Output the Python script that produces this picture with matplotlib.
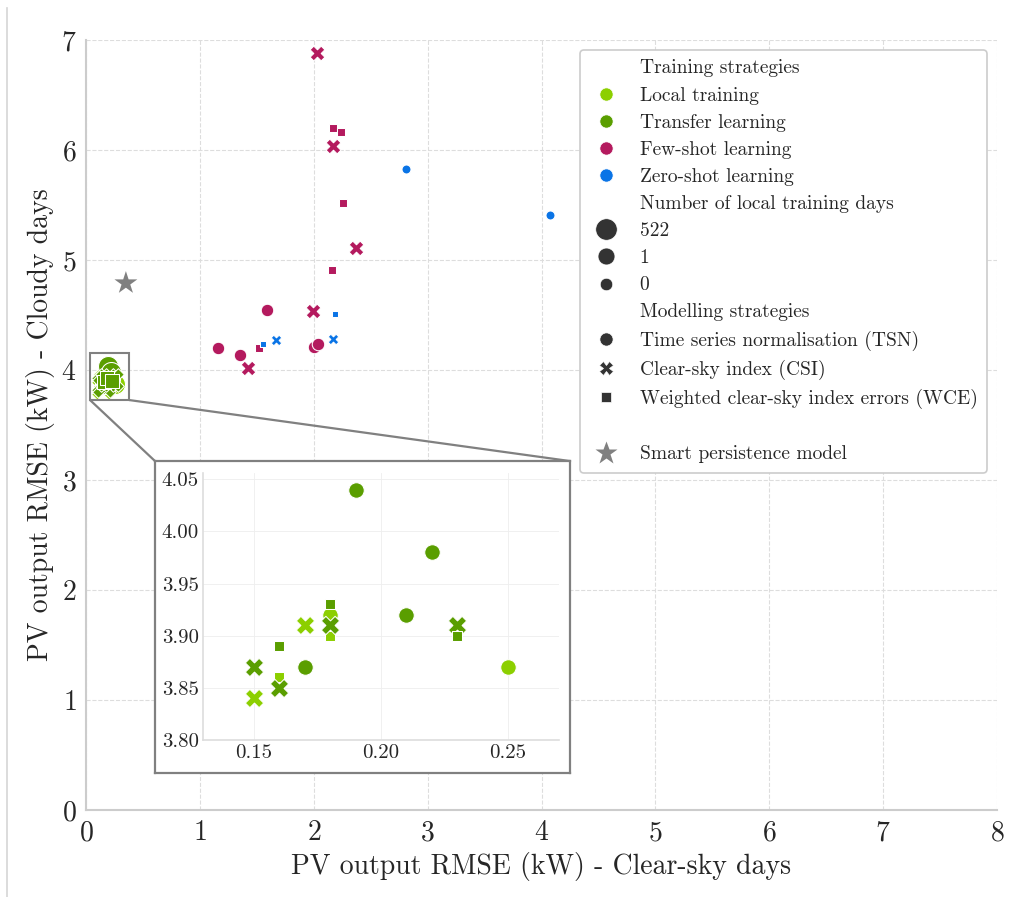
import matplotlib
matplotlib.use("Agg")
import matplotlib.pyplot as plt
from matplotlib.lines import Line2D
from matplotlib.patches import Rectangle, ConnectionPatch
from matplotlib.ticker import FormatStrFormatter

plt.rcParams['font.family'] = 'cmr10'
plt.rcParams['mathtext.fontset'] = 'cm'
plt.rcParams['axes.formatter.use_mathtext'] = True
plt.rcParams['text.color'] = '#262626'
plt.rcParams['axes.labelcolor'] = '#262626'
plt.rcParams['xtick.color'] = '#262626'
plt.rcParams['ytick.color'] = '#262626'

# Colours per training strategy
c_local = '#8ccf00'
c_transfer = '#5a9e00'
c_few = '#b41a5e'
c_zero = '#0a74e6'

# Local training (522 days)
lt_tsn_x = [0.18, 0.25]
lt_tsn_y = [3.92, 3.87]
lt_csi_x = [0.15, 0.17]
lt_csi_y = [3.84, 3.91]
lt_wce_x = [0.16, 0.18]
lt_wce_y = [3.86, 3.90]

# Transfer learning (522 days)
tl_tsn_x = [0.17, 0.19, 0.21, 0.22]
tl_tsn_y = [3.87, 4.04, 3.92, 3.98]
tl_csi_x = [0.15, 0.16, 0.18, 0.23]
tl_csi_y = [3.87, 3.85, 3.91, 3.91]
tl_wce_x = [0.16, 0.18, 0.23]
tl_wce_y = [3.89, 3.93, 3.90]

# Few-shot learning (1 day)
fs_tsn_x = [1.16, 1.35, 1.59, 2.00, 2.04]
fs_tsn_y = [4.20, 4.14, 4.55, 4.21, 4.24]
fs_csi_x = [2.03, 2.17, 2.37, 1.99, 1.42]
fs_csi_y = [6.88, 6.04, 5.11, 4.54, 4.02]
fs_wce_x = [2.17, 2.24, 2.26, 2.16, 1.52]
fs_wce_y = [6.20, 6.16, 5.52, 4.91, 4.20]

# Zero-shot learning (0 days)
zs_tsn_x = [2.81, 4.07]
zs_tsn_y = [5.83, 5.41]
zs_csi_x = [1.67, 2.17]
zs_csi_y = [4.27, 4.28]
zs_wce_x = [1.55, 2.19]
zs_wce_y = [4.24, 4.51]

# Smart persistence model
sp_x = [0.35]
sp_y = [4.79]

fig = plt.figure(figsize=(10.17, 8.97), dpi=100)
ax = fig.add_axes([0.0846, 0.0970, 0.8958, 0.8584])

size_522 = 207
size_1 = 81
size_0 = 42
sq = 0.5
xm = 1.4


def draw_group(a, tsn, csi, wce, color, s):
    a.scatter(tsn[0], tsn[1], s=s, marker='o', color=color, edgecolor='white', linewidth=0.75, zorder=3)
    a.scatter(csi[0], csi[1], s=s * xm, marker='X', color=color, edgecolor='white', linewidth=0.75, zorder=3)
    a.scatter(wce[0], wce[1], s=s * sq, marker='s', color=color, edgecolor='white', linewidth=0.75, zorder=3)


draw_group(ax, (lt_tsn_x, lt_tsn_y), (lt_csi_x, lt_csi_y), (lt_wce_x, lt_wce_y), c_local, size_522)
draw_group(ax, (tl_tsn_x, tl_tsn_y), (tl_csi_x, tl_csi_y), (tl_wce_x, tl_wce_y), c_transfer, size_522)
draw_group(ax, (fs_tsn_x, fs_tsn_y), (fs_csi_x, fs_csi_y), (fs_wce_x, fs_wce_y), c_few, size_1)
draw_group(ax, (zs_tsn_x, zs_tsn_y), (zs_csi_x, zs_csi_y), (zs_wce_x, zs_wce_y), c_zero, size_0)
ax.scatter(sp_x, sp_y, s=300, marker='*', color='#808080', edgecolor='none', zorder=3)

ax.set_xlim(0, 8)
ax.set_ylim(0, 7)
ax.set_xticks(range(0, 9))
ax.set_yticks(range(0, 8))
ax.tick_params(labelsize=20, length=0, pad=7)
ax.set_xlabel("PV output RMSE (kW) - Clear-sky days", fontsize=20)
ax.set_ylabel("PV output RMSE (kW) - Cloudy days", fontsize=20)
ax.grid(True, color='#dddddd', linestyle='--', linewidth=0.8)
ax.set_axisbelow(True)
for side in ['top', 'right']:
    ax.spines[side].set_visible(False)
for side in ['left', 'bottom']:
    ax.spines[side].set_color('#cccccc')
    ax.spines[side].set_linewidth(1.5)

# zoom rectangle in the main plot
rect = Rectangle((0.035, 3.727), 0.343, 0.428, fill=False, edgecolor='#808080', linewidth=1.5, zorder=4)
ax.add_patch(rect)

# white box holding the inset
box = [0.1524, 0.1382, 0.408, 0.3478]
ax_box = fig.add_axes(box)
ax_box.set_xticks([])
ax_box.set_yticks([])
ax_box.set_facecolor('white')
for s in ax_box.spines.values():
    s.set_color('#808080')
    s.set_linewidth(1.6)

# connector lines
for xa, xb in [(0.035, box[0]), (0.378, box[0] + box[2])]:
    con = ConnectionPatch(xyA=(xa, 3.727), coordsA=ax.transData,
                          xyB=(xb, box[1] + box[3]), coordsB=fig.transFigure,
                          color='#808080', linewidth=1.6)
    fig.add_artist(con)

# inset axes
axin = fig.add_axes([0.1996, 0.175, 0.350, 0.2977])
inset_s = 125
draw_group(axin, (lt_tsn_x, lt_tsn_y), (lt_csi_x, lt_csi_y), (lt_wce_x, lt_wce_y), c_local, inset_s)
draw_group(axin, (tl_tsn_x, tl_tsn_y), (tl_csi_x, tl_csi_y), (tl_wce_x, tl_wce_y), c_transfer, inset_s)
axin.set_xlim(0.13, 0.27)
axin.set_ylim(3.8, 4.056)
axin.set_xticks([0.15, 0.20, 0.25])
axin.set_yticks([3.80, 3.85, 3.90, 3.95, 4.00, 4.05])
axin.xaxis.set_major_formatter(FormatStrFormatter('%.2f'))
axin.yaxis.set_major_formatter(FormatStrFormatter('%.2f'))
axin.tick_params(labelsize=15, length=0, pad=3)
axin.grid(True, color='#eeeeee', linestyle='-', linewidth=0.6)
axin.set_axisbelow(True)
for side in ['top', 'right']:
    axin.spines[side].set_visible(False)
for side in ['left', 'bottom']:
    axin.spines[side].set_color('#dddddd')
    axin.spines[side].set_linewidth(1.2)

# legend
def title_entry(label):
    return Line2D([], [], linestyle='none', marker=None, label=label)


def mk(marker, color, ms, label):
    return Line2D([], [], linestyle='none', marker=marker, color=color, markersize=ms,
                  markeredgecolor='white', markeredgewidth=0.5, label=label)


dark = '#333333'
handles = [
    title_entry('Training strategies'),
    mk('o', c_local, 9.5, 'Local training'),
    mk('o', c_transfer, 9.5, 'Transfer learning'),
    mk('o', c_few, 9.5, 'Few-shot learning'),
    mk('o', c_zero, 9.5, 'Zero-shot learning'),
    title_entry('Number of local training days'),
    mk('o', dark, 15.5, '522'),
    mk('o', dark, 12.2, '1'),
    mk('o', dark, 9, '0'),
    title_entry('Modelling strategies'),
    mk('o', dark, 9.5, 'Time series normalisation (TSN)'),
    mk('X', dark, 9.5, 'Clear-sky index (CSI)'),
    mk('s', dark, 7, 'Weighted clear-sky index errors (WCE)'),
    title_entry(''),
    Line2D([], [], linestyle='none', marker='*', color='#808080', markersize=17,
           markeredgecolor='none', label='Smart persistence model'),
]
leg = ax.legend(handles=handles, loc='upper right', fontsize=14, labelspacing=0.47,
                handlelength=1.65, handletextpad=0.9, borderpad=0.5, frameon=True,
                fancybox=True, framealpha=1, edgecolor='#cccccc')
leg.get_frame().set_linewidth(1.2)

# thin page border at the left edge
fig.add_artist(Line2D([7 / 1017, 7 / 1017], [0, 1 - 8 / 897], color='#d5d5d5', linewidth=1.2))

fig.savefig('out.png', dpi=100)
